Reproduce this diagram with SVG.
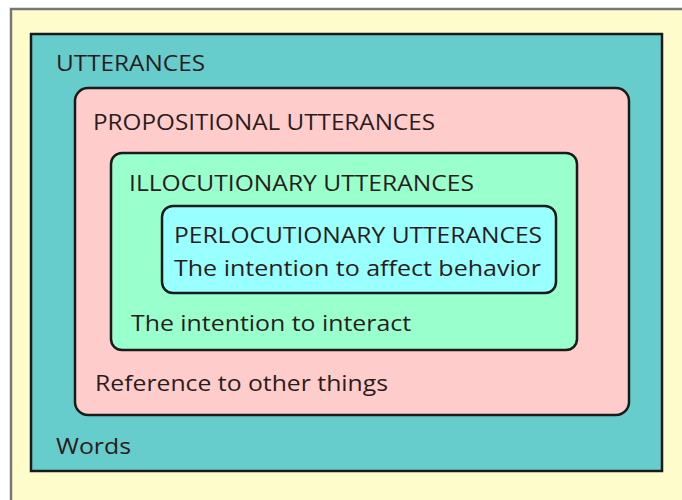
<svg xmlns="http://www.w3.org/2000/svg" width="682" height="500" viewBox="0 0 682 500">
<style>
.t{font-family:"Open Sans","Noto Sans",sans-serif;font-size:22px;font-weight:500;fill:#2a1c1c}
.b{stroke:#1a1a1a;stroke-width:2.5}
</style>
<rect x="0" y="0" width="682" height="500" fill="#ffffff"/>
<rect x="11" y="9" width="680" height="500" fill="#fffccc" stroke="#777" stroke-width="2.5"/>
<g id="utterances">
<rect class="b" x="31" y="34" width="631" height="437" fill="#66cccc" stroke-width="3"/>
<text class="t" x="56" y="71" textLength="149" lengthAdjust="spacingAndGlyphs">UTTERANCES</text>
<text class="t" x="56" y="454" textLength="75" lengthAdjust="spacingAndGlyphs">Words</text>
</g>
<g id="propositional">
<rect class="b" x="75" y="88" width="554" height="327" rx="13" fill="#ffcccc"/>
<text class="t" x="93" y="130" textLength="342" lengthAdjust="spacingAndGlyphs">PROPOSITIONAL UTTERANCES</text>
<text class="t" x="95" y="391" textLength="293" lengthAdjust="spacingAndGlyphs">Reference to other things</text>
</g>
<g id="illocutionary">
<rect class="b" x="111" y="153" width="466" height="197" rx="11" fill="#99ffcc"/>
<text class="t" x="129" y="191" textLength="345" lengthAdjust="spacingAndGlyphs">ILLOCUTIONARY UTTERANCES</text>
<text class="t" x="131" y="331" textLength="280" lengthAdjust="spacingAndGlyphs">The intention to interact</text>
</g>
<g id="perlocutionary">
<rect class="b" x="162" y="206" width="394" height="87" rx="11" fill="#99ffff" stroke-width="3"/>
<text class="t" x="174" y="243" textLength="368" lengthAdjust="spacingAndGlyphs">PERLOCUTIONARY UTTERANCES</text>
<text class="t" x="174" y="276" textLength="367" lengthAdjust="spacingAndGlyphs">The intention to affect behavior</text>
</g>
<g id="connectors"/>
</svg>
